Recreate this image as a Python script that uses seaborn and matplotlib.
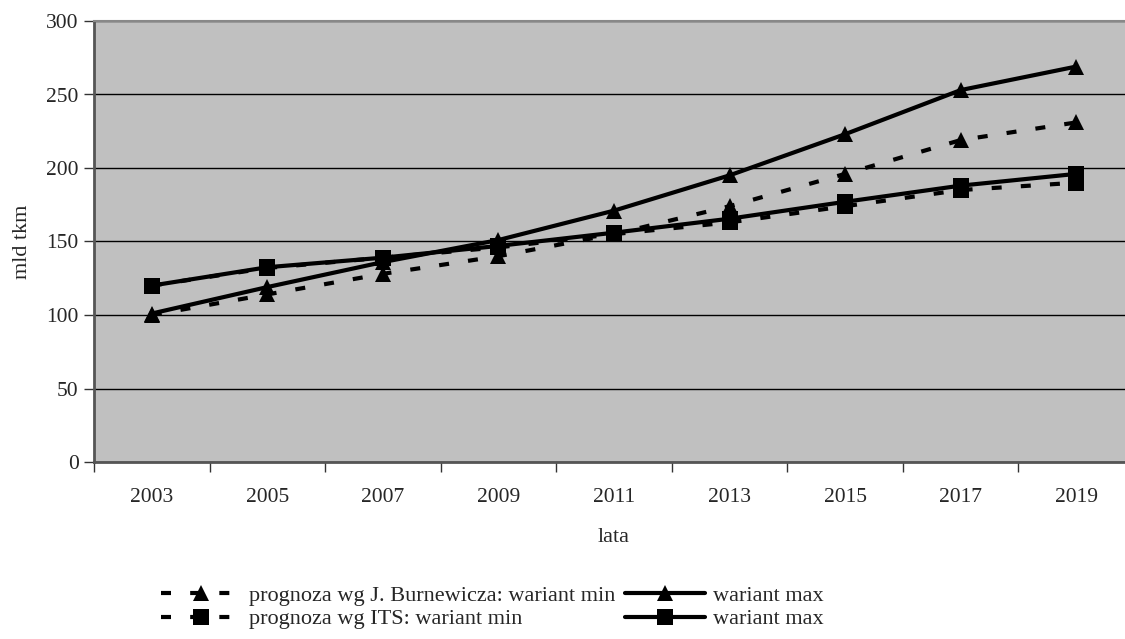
import numpy as np
import pandas as pd
import matplotlib.pyplot as plt
import seaborn as sns

years = ['2003', '2005', '2007', '2009', '2011', '2013', '2015', '2017', '2019']
burnewicz_min = [100, 114, 128, 140, 155, 174, 196, 219, 231]
burnewicz_max = [101, 119, 136, 151, 171, 195, 223, 253, 269]
its_min = [120, 132, 139, 146, 155, 163, 174, 185, 190]
its_max = [120, 132.5, 139, 147, 156, 165.5, 177, 188, 196]

sns.set_style('white')
plt.rcParams['font.family'] = ['Liberation Serif', 'DejaVu Serif']

fig = plt.figure(figsize=(11.25, 6.39), dpi=100)
# right edge of the plot area runs slightly past the image, as in the original
ax = fig.add_axes([94 / 1125, 1 - 462 / 639, 1040 / 1125, 441 / 639])
ax.set_facecolor('#c0c0c0')

pos = np.arange(len(years))
dash = (0, (2.4, 4.6))

# order chosen so that ncol=2 gives min variants on the left, max on the right
series = [
    ('prognoza wg J. Burnewicza: wariant min', burnewicz_min, '^', dash),
    ('prognoza wg ITS: wariant min', its_min, 's', dash),
    ('wariant max', burnewicz_max, '^', '-'),
    ('wariant max', its_max, 's', '-'),
]

for label, vals, mk, ls in series:
    df = pd.DataFrame({'x': pos, 'y': vals})
    sns.lineplot(data=df, x='x', y='y', ax=ax, color='black', linewidth=3,
                 linestyle=ls, marker=mk, markersize=11, markeredgewidth=0,
                 label=label)

ax.set_xlim(-0.5, len(years) - 0.5)
ax.set_ylim(0, 300)
ax.set_yticks(range(0, 301, 50))
ax.set_xticks(pos)
ax.set_xticklabels(years)
ax.set_xticks(np.arange(-0.5, len(years), 1), minor=True)
ax.tick_params(axis='x', which='major', length=0, labelsize=15.5, pad=19)
ax.tick_params(axis='x', which='minor', length=7, width=1, color='#333333', direction='out', bottom=True)
ax.tick_params(axis='y', length=7, width=1, color='#333333', direction='out', left=True, labelsize=15.5, pad=4)
ax.yaxis.grid(True, color='black', linewidth=1)
ax.set_axisbelow(True)

for side in ['left', 'bottom']:
    ax.spines[side].set_color('#555555')
    ax.spines[side].set_linewidth(2)
ax.spines['top'].set_color('#888888')
ax.spines['top'].set_linewidth(1.5)
ax.spines['right'].set_visible(False)

ax.set_xlabel('lata', fontsize=16, labelpad=15)
ax.set_ylabel('mld tkm', fontsize=16, labelpad=10)

handles, labels = ax.get_legend_handles_labels()
ax.legend(handles, labels, ncol=2, frameon=False, fontsize=16,
          loc='upper left', bbox_to_anchor=(161 / 1125, 1 - 585 / 639),
          bbox_transform=fig.transFigure, handlelength=3.6, handletextpad=0.35,
          columnspacing=0.45, labelspacing=0.15, borderaxespad=0, borderpad=0)

fig.savefig('out.png', dpi=100)
